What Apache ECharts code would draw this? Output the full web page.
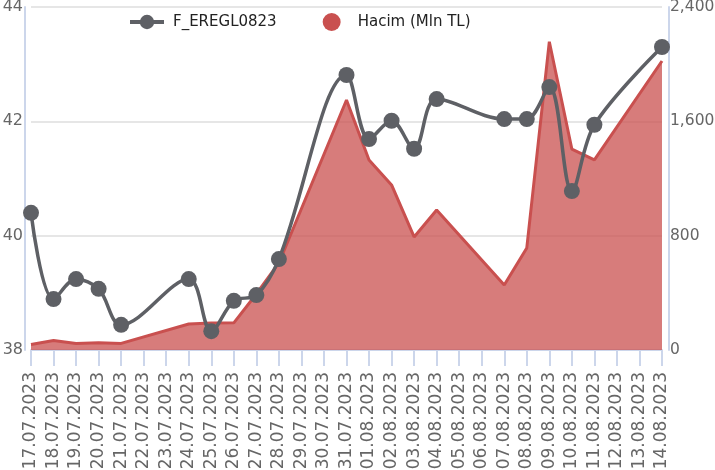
<!DOCTYPE html>
<html>
<head>
<meta charset="utf-8">
<script src="https://cdn.jsdelivr.net/npm/echarts@6/dist/echarts.min.js"></script>
<style>html,body{margin:0;padding:0;background:#fff}#c{width:715px;height:470px}</style>
</head>
<body>
<div id="c"></div>
<script>
var categories = ['17.07.2023','18.07.2023','19.07.2023','20.07.2023','21.07.2023','22.07.2023','23.07.2023','24.07.2023','25.07.2023','26.07.2023','27.07.2023','28.07.2023','29.07.2023','30.07.2023','31.07.2023','01.08.2023','02.08.2023','03.08.2023','04.08.2023','05.08.2023','06.08.2023','07.08.2023','08.08.2023','09.08.2023','10.08.2023','11.08.2023','12.08.2023','13.08.2023','14.08.2023'];
var priceName = 'F_EREGL0823';
var priceValues = [40.40,38.89,39.24,39.07,38.44,null,null,39.24,38.33,38.86,38.96,39.59,null,null,42.81,41.69,42.01,41.52,42.39,null,null,42.04,42.04,42.60,40.78,41.94,null,null,43.30];
var volumeName = 'Hacim (Mln TL)';
var volumeValues = [38,66,46,50,46,null,null,182,189,190,392,609,null,null,1749,1330,1155,791,980,null,null,455,714,2157,1406,1330,null,null,2022];
var leftTicks = {min:38, max:44, interval:2};
var rightTicks = {min:0, max:2400, interval:800};

var FONT = 'DejaVu Sans';
var chart = echarts.init(document.getElementById('c'), null, {renderer:'canvas'});
chart.setOption({
  animation:false,
  backgroundColor:'#fff',
  textStyle:{fontFamily:FONT},
  legend:{
    left:123, top:8, itemWidth:34, itemHeight:18, itemGap:46,
    lineStyle:{width:4},
    textStyle:{fontFamily:FONT, fontSize:15, color:'#222', padding:[0,0,0,4]},
    data:[{name:priceName},{name:volumeName, icon:'circle', itemStyle:{color:'#c9504f'}}]
  },
  grid:{left:31, right:53, top:7, bottom:120, containLabel:false, outerBoundsMode:'none'},
  xAxis:{
    type:'category', data:categories, boundaryGap:false,
    axisLine:{lineStyle:{color:'#ccd6eb', width:2}},
    axisTick:{show:true, length:16, interval:0, lineStyle:{color:'#ccd6eb', width:2}},
    axisLabel:{interval:0, rotate:90, margin:22, fontSize:17, color:'#666', fontFamily:FONT},
    splitLine:{show:false}
  },
  yAxis:[{
    type:'value', min:leftTicks.min, max:leftTicks.max, interval:leftTicks.interval, offset:6,
    axisLine:{show:true, lineStyle:{color:'#ccd6eb', width:2}},
    axisTick:{show:false},
    axisLabel:{fontSize:16, color:'#666', margin:2, fontFamily:FONT},
    splitLine:{lineStyle:{color:'#e6e6e6', width:2}}
  },{
    type:'value', min:rightTicks.min, max:rightTicks.max, interval:rightTicks.interval, offset:7, position:'right',
    axisLine:{show:true, lineStyle:{color:'#ccd6eb', width:2}},
    axisTick:{show:false},
    axisLabel:{fontSize:15.5, color:'#666', margin:1, fontFamily:FONT},
    splitLine:{show:false}
  }],
  series:[{
    name:volumeName, type:'line', yAxisIndex:1, data:volumeValues, connectNulls:true,
    showSymbol:false, symbol:'circle', z:1,
    itemStyle:{color:'#c9504f'},
    lineStyle:{color:'#c9504f', width:3},
    areaStyle:{color:'#c9504f', opacity:0.75}
  },{
    name:priceName, type:'line', yAxisIndex:0, data:priceValues, connectNulls:true,
    smooth:0.35, symbol:'circle', symbolSize:16, z:3,
    itemStyle:{color:'#5e6065'},
    lineStyle:{color:'#5e6065', width:3.5}
  }]
});
</script>
</body>
</html>
